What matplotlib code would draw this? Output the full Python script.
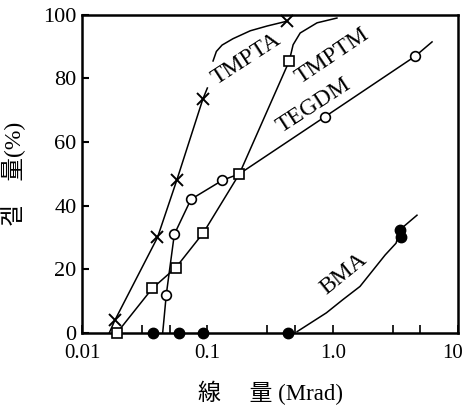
import matplotlib
matplotlib.use("Agg")
import matplotlib.pyplot as plt
from matplotlib.ticker import FixedLocator, NullFormatter
from matplotlib.transforms import ScaledTranslation

plt.rcParams['font.family'] = ['Liberation Serif', 'Noto Sans CJK KR', 'DejaVu Sans']

# Dose (Mrad) and gel fraction (%) for each monomer: measured points
tmpta_x = [0.0183, 0.040, 0.057, 0.092, 0.43]
tmpta_y = [4, 30, 48, 73.5, 98]
tmptm_x = [0.019, 0.0364, 0.056, 0.093, 0.18, 0.45]
tmptm_y = [0, 14, 20.5, 31.5, 50, 85.5]
tegdm_x = [0.047, 0.0545, 0.074, 0.132, 0.87, 4.55]
tegdm_y = [12, 31, 42, 48, 68, 87]
bma_x = [0.037, 0.059, 0.092, 0.44, 3.45, 3.5]
bma_y = [0, 0, 0, 0, 32.5, 30]

# Hand-drawn trend curves through the points
tmpta_lo_x = [0.0165, 0.0183, 0.040, 0.057, 0.092, 0.100]
tmpta_lo_y = [0, 4, 30, 48, 73.5, 77]
tmpta_hi_x = [0.111, 0.118, 0.131, 0.16, 0.22, 0.30, 0.43]
tmpta_hi_y = [85.5, 88.5, 90.5, 92.5, 95, 96.5, 98]
tmptm_curve_x = [0.019, 0.0364, 0.056, 0.093, 0.18, 0.45, 0.483, 0.55, 0.75, 1.08]
tmptm_curve_y = [0, 14, 20.5, 31.5, 50, 85.5, 90.6, 94.3, 97.5, 99]
tegdm_curve_x = [0.044, 0.045, 0.047, 0.0545, 0.074, 0.132, 0.18, 0.87, 4.55, 6.2]
tegdm_curve_y = [0, 4, 12, 31, 42, 48, 50, 68, 87, 91.5]
bma_curve_x = [0.52, 0.89, 1.2, 1.65, 2.62, 3.2, 3.45, 4.7]
bma_curve_y = [0.4, 6.3, 10.4, 14.6, 24.5, 28.2, 32.5, 37]

curve_labels = ["TMPTA", "TMPTM", "TEGDM", "BMA"]
label_x = [0.205, 1.0, 0.71, 1.23]
label_y = [86, 87, 71.5, 18.5]
label_rot = [33, 34, 33, 39]

x_major = [0.01, 0.1, 1.0, 10]
x_major_labels = ["0.01", "0.1", "1.0", "10"]
x_minor = [0.03, 0.05, 0.3, 0.5, 3, 5]
y_ticks = [0, 20, 40, 60, 80, 100]

fig = plt.figure(figsize=(4.66, 4.13), dpi=100)
ax = fig.add_axes([0.176, 0.194, 0.807, 0.770])

lw = 1.1
ax.plot(tmpta_lo_x, tmpta_lo_y, color='black', lw=lw)
ax.plot(tmpta_hi_x, tmpta_hi_y, color='black', lw=lw)
ax.plot(tmptm_curve_x, tmptm_curve_y, color='black', lw=lw)
ax.plot(tegdm_curve_x, tegdm_curve_y, color='black', lw=lw)
ax.plot(bma_curve_x, bma_curve_y, color='black', lw=lw)

ax.plot(tmpta_x, tmpta_y, ls='none', marker='x', ms=8, mew=1.4, color='black',
        clip_on=False, zorder=4)
ax.plot(tmptm_x, tmptm_y, ls='none', marker='s', ms=7, mew=1.2, mfc='white',
        mec='black', clip_on=False, zorder=4)
ax.plot(tegdm_x, tegdm_y, ls='none', marker='o', ms=7, mew=1.2, mfc='white',
        mec='black', clip_on=False, zorder=4)
ax.plot(bma_x, bma_y, ls='none', marker='o', ms=7.5, color='black',
        clip_on=False, zorder=4)

for name, lx, ly, rot in zip(curve_labels, label_x, label_y, label_rot):
    ax.text(lx, ly, name, rotation=rot, fontsize=17, ha='center', va='center',
            rotation_mode='anchor', zorder=5)

ax.set_xscale('log')
ax.set_xlim(0.01, 10)
ax.set_ylim(0, 100)
ax.xaxis.set_major_locator(FixedLocator(x_major))
ax.set_xticklabels(x_major_labels)
ax.xaxis.set_minor_locator(FixedLocator(x_minor))
ax.xaxis.set_minor_formatter(NullFormatter())
ax.set_yticks(y_ticks)

ax.tick_params(axis='x', which='both', direction='in', length=6, width=1.2,
               labelsize=15, pad=8, top=False)
ax.tick_params(axis='y', which='both', direction='in', length=5, width=1.5,
               labelsize=16, pad=4, right=False)
for s in ax.spines.values():
    s.set_linewidth(1.8)

# keep the last decade label inside the canvas
last = ax.get_xticklabels()[-1]
last.set_transform(last.get_transform() + ScaledTranslation(-4 / 72, 0, fig.dpi_scale_trans))

ax.set_xlabel("線\u3000 量 (Mrad)", fontsize=16.5, labelpad=13)
ax.set_ylabel("겔\u3000量(%)", fontsize=17, labelpad=12)

fig.savefig("out.png", dpi=100)
